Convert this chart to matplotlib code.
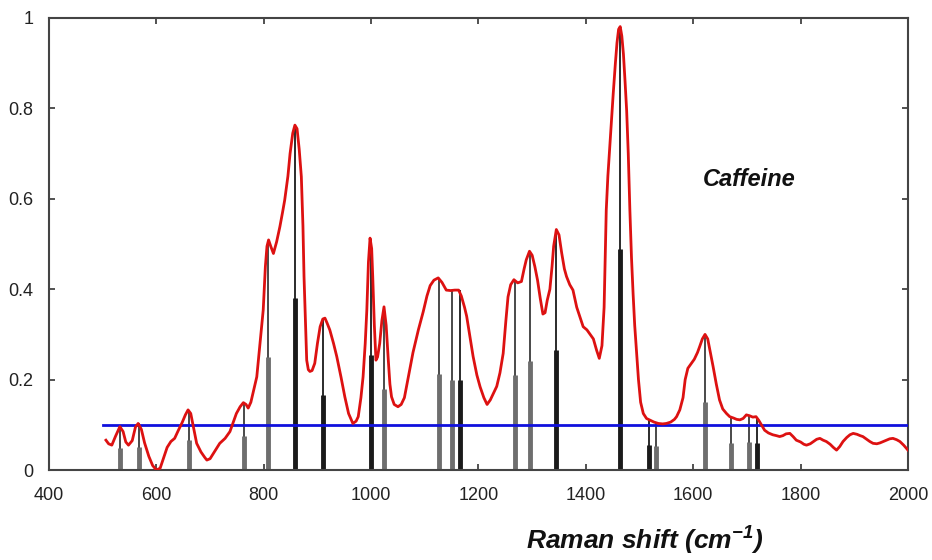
import matplotlib
matplotlib.use("Agg")
import matplotlib.pyplot as plt

# Raman spectrum of caffeine
shift = [506, 511, 517, 524, 532, 538, 543, 548, 555, 561, 566, 572, 578, 586, 593,
         600, 607, 613, 620, 627, 634, 641, 648, 654, 659, 664, 669, 675, 683, 690,
         694, 700, 708, 718, 728, 737, 743, 749, 756, 762, 767, 771, 776, 780, 784,
         787, 793, 799, 803, 806, 809, 813, 818, 824, 830, 835, 839, 845, 849, 854,
         858, 862, 866, 870, 873, 875, 878, 880, 883, 886, 890, 895, 900, 905, 910,
         914, 918, 923, 930, 936, 944, 951, 958, 966, 972, 976, 981, 985, 989, 992,
         995, 998, 1001, 1003, 1006, 1009, 1012, 1016, 1020, 1024, 1028, 1032, 1035,
         1038, 1043, 1050, 1056, 1062, 1070, 1078, 1088, 1097, 1104, 1110, 1117, 1125,
         1132, 1140, 1148, 1156, 1163, 1168, 1174, 1178, 1184, 1190, 1197, 1203, 1210,
         1216, 1222, 1228, 1234, 1240, 1246, 1251, 1255, 1260, 1266, 1273, 1280, 1285,
         1289, 1295, 1300, 1305, 1310, 1315, 1320, 1324, 1328, 1333, 1337, 1340, 1345,
         1350, 1355, 1360, 1364, 1370, 1376, 1383, 1390, 1395, 1402, 1408, 1414, 1420,
         1425, 1430, 1434, 1438, 1441, 1445, 1451, 1455, 1458, 1461, 1464, 1467, 1470,
         1473, 1476, 1479, 1482, 1485, 1488, 1491, 1494, 1498, 1502, 1507, 1513, 1520,
         1527, 1535, 1543, 1550, 1558, 1565, 1569, 1575, 1581, 1585, 1590, 1596, 1602,
         1608, 1612, 1617, 1622, 1627, 1632, 1637, 1643, 1649, 1655, 1662, 1668, 1675,
         1681, 1687, 1693, 1699, 1705, 1711, 1717, 1722, 1727, 1733, 1740, 1748, 1755,
         1761, 1767, 1773, 1780, 1786, 1792, 1800, 1806, 1811, 1818, 1825, 1830, 1836,
         1842, 1848, 1855, 1861, 1867, 1873, 1879, 1886, 1892, 1898, 1905, 1911, 1916,
         1923, 1929, 1935, 1942, 1948, 1954, 1960, 1966, 1972, 1979, 1985, 1992, 2000]
intensity = [0.066, 0.058, 0.055, 0.075, 0.096, 0.085, 0.062, 0.055, 0.065, 0.095,
             0.103, 0.090, 0.060, 0.030, 0.010, 0.000, 0.004, 0.025, 0.050, 0.063,
             0.070, 0.088, 0.105, 0.122, 0.133, 0.125, 0.095, 0.059, 0.040, 0.028,
             0.022, 0.025, 0.040, 0.059, 0.070, 0.085, 0.105, 0.125, 0.140, 0.149,
             0.145, 0.137, 0.150, 0.170, 0.190, 0.206, 0.280, 0.354, 0.450, 0.495,
             0.509, 0.495, 0.479, 0.505, 0.538, 0.570, 0.597, 0.650, 0.700, 0.745,
             0.763, 0.755, 0.710, 0.649, 0.540, 0.428, 0.320, 0.243, 0.222, 0.218,
             0.220, 0.236, 0.280, 0.317, 0.334, 0.336, 0.325, 0.310, 0.280, 0.251,
             0.205, 0.162, 0.125, 0.103, 0.108, 0.118, 0.160, 0.206, 0.280, 0.354,
             0.460, 0.513, 0.490, 0.428, 0.320, 0.243, 0.250, 0.280, 0.330, 0.361,
             0.320, 0.243, 0.190, 0.162, 0.145, 0.140, 0.145, 0.160, 0.210, 0.260,
             0.310, 0.350, 0.385, 0.408, 0.420, 0.425, 0.415, 0.398, 0.397, 0.398,
             0.398, 0.385, 0.360, 0.340, 0.295, 0.251, 0.210, 0.184, 0.160, 0.145,
             0.155, 0.170, 0.185, 0.215, 0.258, 0.330, 0.383, 0.410, 0.421, 0.414,
             0.417, 0.445, 0.465, 0.484, 0.475, 0.450, 0.420, 0.380, 0.345, 0.348,
             0.375, 0.400, 0.450, 0.495, 0.532, 0.520, 0.480, 0.445, 0.428, 0.410,
             0.398, 0.360, 0.335, 0.317, 0.310, 0.300, 0.290, 0.265, 0.247, 0.275,
             0.360, 0.575, 0.650, 0.723, 0.833, 0.900, 0.945, 0.975, 0.981, 0.960,
             0.920, 0.860, 0.795, 0.700, 0.575, 0.470, 0.390, 0.320, 0.270, 0.200,
             0.150, 0.125, 0.114, 0.110, 0.106, 0.103, 0.102, 0.103, 0.106, 0.112,
             0.118, 0.133, 0.160, 0.200, 0.225, 0.235, 0.245, 0.260, 0.273, 0.290,
             0.300, 0.290, 0.260, 0.229, 0.190, 0.155, 0.135, 0.125, 0.118, 0.115,
             0.112, 0.111, 0.114, 0.122, 0.120, 0.117, 0.118, 0.110, 0.100, 0.088,
             0.082, 0.078, 0.076, 0.074, 0.076, 0.080, 0.081, 0.074, 0.066, 0.062,
             0.057, 0.055, 0.058, 0.064, 0.068, 0.070, 0.066, 0.063, 0.057, 0.050,
             0.044, 0.052, 0.063, 0.072, 0.078, 0.081, 0.079, 0.076, 0.074, 0.068,
             0.063, 0.059, 0.058, 0.060, 0.063, 0.066, 0.069, 0.070, 0.067, 0.063,
             0.055, 0.044]

# reference bands (stick positions, heights and shade)
band_pos = [532, 567, 661, 764, 808, 858, 910, 1000, 1024, 1126, 1150, 1165,
            1268, 1296, 1345, 1464, 1517, 1530, 1622, 1671, 1703, 1718]
band_height = [0.096, 0.103, 0.133, 0.149, 0.500, 0.760, 0.334, 0.510, 0.360,
               0.424, 0.398, 0.398, 0.420, 0.483, 0.531, 0.980, 0.110, 0.107,
               0.300, 0.118, 0.122, 0.118]
band_dark = [0, 0, 0, 0, 0, 1, 1, 1, 0, 0, 0, 1, 0, 0, 1, 1, 1, 0, 0, 0, 0, 1]

threshold = 0.1
threshold_range = [500, 2000]

plt.rcParams['font.family'] = ['Liberation Sans', 'DejaVu Sans']
plt.rcParams['mathtext.fontset'] = 'custom'
plt.rcParams['mathtext.rm'] = 'Liberation Sans:bold:italic'
plt.rcParams['mathtext.it'] = 'Liberation Sans:bold:italic'

fig = plt.figure(figsize=(9.32, 5.6), dpi=100)
ax = fig.add_axes([0.0526, 0.1607, 0.9216, 0.8072])

for x, h, d in zip(band_pos, band_height, band_dark):
    c = '#1a1a1a' if d else '#6e6e6e'
    ax.vlines(x, 0, h, color='#3a3a3a' if not d else c, lw=1.3, zorder=2)
    ax.vlines(x, 0, h / 2, color=c, lw=3.5, zorder=2)

ax.plot(threshold_range, [threshold, threshold], color='#1010dd', lw=2, zorder=3)
ax.plot(shift, intensity, color='#dd1111', lw=2, zorder=4)

ax.set_xlim(400, 2000)
ax.set_ylim(0, 1)
ax.set_xticks(range(400, 2001, 200))
ax.set_yticks([0, 0.2, 0.4, 0.6, 0.8, 1])
ax.set_yticklabels(['0', '0.2', '0.4', '0.6', '0.8', '1'])
ax.tick_params(direction='in', top=True, right=True, length=4, width=1.2,
               color='#333333', labelsize=13, labelcolor='#222222')
ax.tick_params(axis='x', pad=12)
ax.tick_params(axis='y', pad=11)
for sp in ax.spines.values():
    sp.set_color('#444444')
    sp.set_linewidth(1.5)

ax.text(1705, 0.642, 'Caffeine', fontsize=17, fontweight='bold', fontstyle='italic',
        ha='center', va='center', color='#111111')
fig.text(645 / 932, 1 - 541 / 560, r'Raman shift (cm$^{-1}$)', fontsize=19,
         fontweight='bold', fontstyle='italic', ha='center', va='center',
         color='#111111')

fig.savefig('out.png', dpi=100)
